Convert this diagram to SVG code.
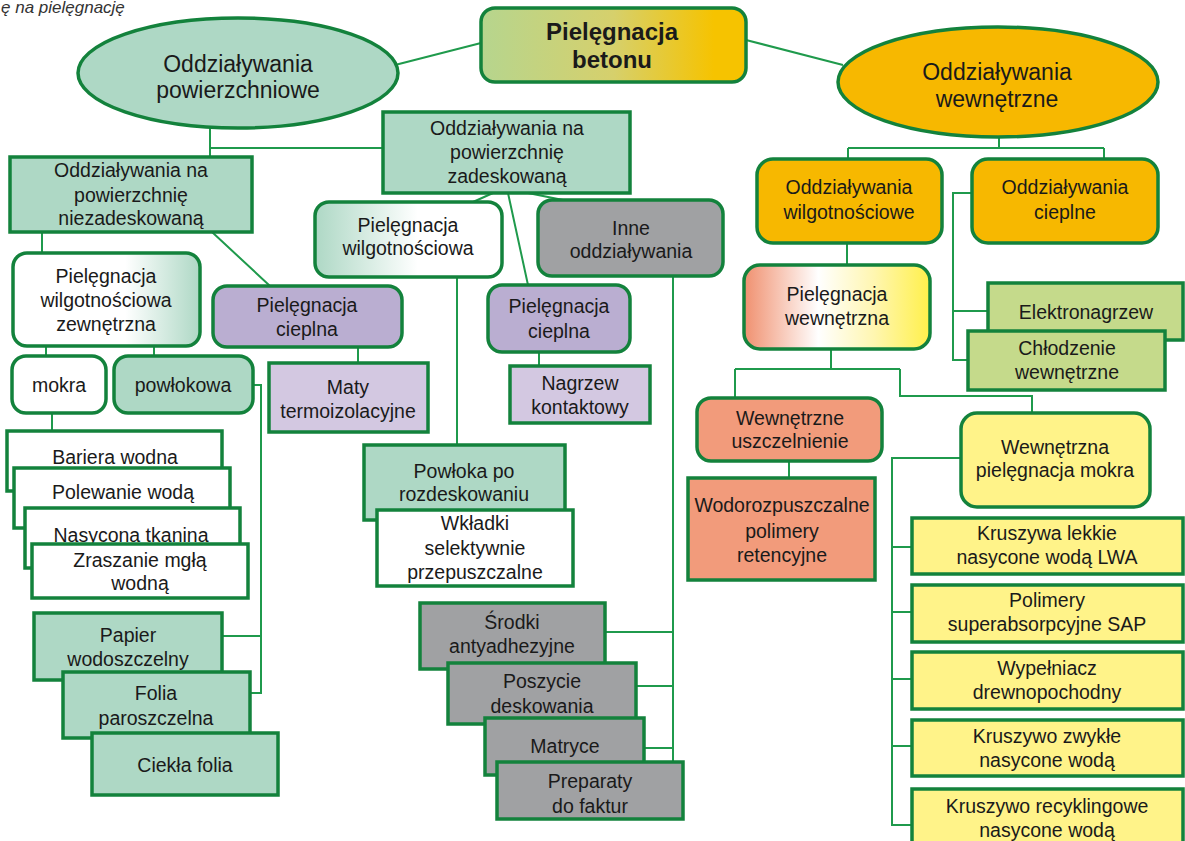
<svg xmlns="http://www.w3.org/2000/svg" width="1185" height="841" viewBox="0 0 1185 841">
<defs>
<style>
.b{stroke:#13823c;stroke-width:3.5}
.ln{stroke:#1f9a4c;stroke-width:2;fill:none}
text{font-family:"Liberation Sans",Arial,sans-serif;font-size:19.5px;fill:#1a1a1a;text-anchor:middle}
.big{font-size:23px}
.ttl{font-size:24px;font-weight:bold}
.cap{font-size:17px;font-style:italic;text-anchor:start;fill:#333}
.teal{fill:#aed8c5}.white{fill:#fff}.purple{fill:#baaed1}.lpurple{fill:#d3c8e1}
.gray{fill:#a0a1a3}.amber{fill:#f7b800}.salmon{fill:#f29b7b}.lgreen{fill:#c5da8b}.yellow{fill:#fff389}
</style>
<linearGradient id="gTitle" x1="0" y1="0" x2="1" y2="0">
<stop offset="0" stop-color="#b6d58e"/><stop offset="0.5" stop-color="#d6d06c"/><stop offset="0.88" stop-color="#f6c300"/><stop offset="1" stop-color="#f6c300"/>
</linearGradient>
<linearGradient id="gPWZ" x1="0" y1="0" x2="1" y2="0">
<stop offset="0" stop-color="#fff"/><stop offset="0.6" stop-color="#fff"/><stop offset="1" stop-color="#aed8c5"/>
</linearGradient>
<linearGradient id="gPWC" x1="0" y1="0" x2="1" y2="0">
<stop offset="0" stop-color="#aed8c5"/><stop offset="0.55" stop-color="#fff"/><stop offset="1" stop-color="#fff"/>
</linearGradient>
<linearGradient id="gPWew" x1="0" y1="0" x2="1" y2="0">
<stop offset="0" stop-color="#f0906f"/><stop offset="0.4" stop-color="#fff"/><stop offset="0.7" stop-color="#fff6b0"/><stop offset="1" stop-color="#fff04a"/>
</linearGradient>
</defs>
<rect width="1185" height="841" fill="#fff"/>
<text class="cap" x="1" y="13">ę na pielęgnację</text>

<g id="connectors">
<path class="ln" d="M481,43 L395,65 M746,40 L843,65"/>
<path class="ln" d="M210,128 V157 M210,148 H383"/>
<path class="ln" d="M42,232 V253 M46,346 V356 M154,346 V356 M52,413 V431"/>
<path class="ln" d="M253,385 H261 V693 H250 M222,636 H261"/>
<path class="ln" d="M212,232 L270,286 M358,347 V363"/>
<path class="ln" d="M493,193 L473,202 M457,277 V445 M528,193 L563,200 M508,193 L528,285 M539,352 V366"/>
<path class="ln" d="M673,276 V762 M605,632 H673 M636,686 H673 M644,748 H673"/>
<path class="ln" d="M999,137 V148 M848,148 H1104 M848,148 V159 M1104,148 V159"/>
<path class="ln" d="M972,193 H953 V360 H968 M953,311 H988"/>
<path class="ln" d="M847,243 V265 M831,349 V369 M735,369 H900 M735,369 V398 M900,369 V396 H1032 V413 M789,461 V478"/>
<path class="ln" d="M961,458 H892 V825 H912 M892,547 H912 M892,612 H912 M892,679 H912 M892,746 H912"/>
</g>

<g id="n-pielegnacja-betonu"><rect class="b" x="481" y="8" width="265" height="74" rx="14" fill="url(#gTitle)"/><text class="ttl" x="612" y="40">Pielęgnacja</text><text class="ttl" x="612" y="68">betonu</text></g>
<g id="n-powierzchniowe"><ellipse class="b teal" cx="238" cy="73" rx="160" ry="55"/><text class="big" x="238" y="72">Oddziaływania</text><text class="big" x="238" y="98">powierzchniowe</text></g>
<g id="n-wewnetrzne"><ellipse class="b amber" cx="998" cy="82" rx="160" ry="55"/><text class="big" x="997" y="80">Oddziaływania</text><text class="big" x="997" y="107">wewnętrzne</text></g>

<g id="n-niezadeskowana"><rect class="b teal" x="10" y="157" width="242" height="75"/><text x="131" y="177">Oddziaływania na</text><text x="131" y="202">powierzchnię</text><text x="131" y="225">niezadeskowaną</text></g>
<g id="n-zadeskowana"><rect class="b teal" x="383" y="112" width="247" height="81"/><text x="507" y="135">Oddziaływania na</text><text x="507" y="159">powierzchnię</text><text x="507" y="183">zadeskowaną</text></g>
<g id="n-pwz"><rect class="b" x="13" y="253" width="187" height="93" rx="14" fill="url(#gPWZ)"/><text x="106" y="283">Pielęgnacja</text><text x="106" y="307">wilgotnościowa</text><text x="106" y="331">zewnętrzna</text></g>
<g id="n-mokra"><rect class="b white" x="12" y="356" width="94" height="57" rx="14"/><text x="59" y="392">mokra</text></g>
<g id="n-powlokowa"><rect class="b teal" x="114" y="356" width="139" height="57" rx="14"/><text x="183" y="392">powłokowa</text></g>
<g id="n-bariera"><rect class="b white" x="7" y="431" width="215" height="60"/><text x="115" y="464">Bariera wodna</text></g>
<g id="n-polewanie"><rect class="b white" x="14" y="468" width="216" height="60"/><text x="123" y="499">Polewanie wodą</text></g>
<g id="n-nasycona"><rect class="b white" x="25" y="508" width="215" height="60"/><text x="131" y="542">Nasycona tkanina</text></g>
<g id="n-zraszanie"><rect class="b white" x="32" y="544" width="216" height="54"/><text x="140" y="567">Zraszanie mgłą</text><text x="140" y="590">wodną</text></g>
<g id="n-papier"><rect class="b teal" x="34" y="613" width="188" height="67"/><text x="128" y="642">Papier</text><text x="128" y="666">wodoszczelny</text></g>
<g id="n-folia"><rect class="b teal" x="63" y="672" width="187" height="66"/><text x="156" y="700">Folia</text><text x="156" y="725">paroszczelna</text></g>
<g id="n-ciekla"><rect class="b teal" x="92" y="733" width="186" height="62"/><text x="185" y="772">Ciekła folia</text></g>
<g id="n-cieplna-l"><rect class="b purple" x="213" y="286" width="189" height="61" rx="14"/><text x="307" y="312">Pielęgnacja</text><text x="307" y="336">cieplna</text></g>
<g id="n-maty"><rect class="b lpurple" x="269" y="363" width="159" height="69"/><text x="348" y="394">Maty</text><text x="348" y="418">termoizolacyjne</text></g>
<g id="n-pwc"><rect class="b" x="315" y="202" width="187" height="75" rx="14" fill="url(#gPWC)"/><text x="408" y="232">Pielęgnacja</text><text x="408" y="255">wilgotnościowa</text></g>
<g id="n-inne"><rect class="b gray" x="538" y="200" width="185" height="76" rx="14"/><text x="631" y="235">Inne</text><text x="631" y="258">oddziaływania</text></g>
<g id="n-cieplna-c"><rect class="b purple" x="488" y="285" width="142" height="67" rx="14"/><text x="559" y="313">Pielęgnacja</text><text x="559" y="338">cieplna</text></g>
<g id="n-nagrzew"><rect class="b lpurple" x="510" y="366" width="140" height="57"/><text x="580" y="390">Nagrzew</text><text x="580" y="414">kontaktowy</text></g>
<g id="n-powloka-po"><rect class="b teal" x="364" y="445" width="201" height="75"/><text x="464" y="478">Powłoka po</text><text x="464" y="501">rozdeskowaniu</text></g>
<g id="n-wkladki"><rect class="b white" x="377" y="510" width="196" height="76"/><text x="475" y="530">Wkładki</text><text x="475" y="555">selektywnie</text><text x="475" y="579">przepuszczalne</text></g>
<g id="n-srodki"><rect class="b gray" x="420" y="603" width="185" height="66"/><text x="512" y="629">Środki</text><text x="512" y="653">antyadhezyjne</text></g>
<g id="n-poszycie"><rect class="b gray" x="448" y="663" width="188" height="61"/><text x="542" y="688">Poszycie</text><text x="542" y="713">deskowania</text></g>
<g id="n-matryce"><rect class="b gray" x="485" y="718" width="159" height="57"/><text x="565" y="753">Matryce</text></g>
<g id="n-preparaty"><rect class="b gray" x="497" y="762" width="186" height="57"/><text x="590" y="788">Preparaty</text><text x="590" y="813">do faktur</text></g>

<g id="n-ow"><rect class="b amber" x="757" y="159" width="185" height="84" rx="16"/><text x="849" y="194">Oddziaływania</text><text x="849" y="219">wilgotnościowe</text></g>
<g id="n-oc"><rect class="b amber" x="972" y="159" width="186" height="84" rx="16"/><text x="1065" y="194">Oddziaływania</text><text x="1065" y="219">cieplne</text></g>
<g id="n-elektro"><rect class="b lgreen" x="988" y="283" width="195" height="57"/><text x="1086" y="319">Elektronagrzew</text></g>
<g id="n-chlodzenie"><rect class="b lgreen" x="968" y="331" width="197" height="59"/><text x="1067" y="355">Chłodzenie</text><text x="1067" y="379">wewnętrzne</text></g>
<g id="n-pwew"><rect class="b" x="744" y="265" width="186" height="84" rx="16" fill="url(#gPWew)"/><text x="837" y="301">Pielęgnacja</text><text x="837" y="325">wewnętrzna</text></g>
<g id="n-wu"><rect class="b salmon" x="697" y="398" width="185" height="63" rx="14"/><text x="790" y="425">Wewnętrzne</text><text x="790" y="448">uszczelnienie</text></g>
<g id="n-wodoroz"><rect class="b salmon" x="688" y="478" width="187" height="102"/><text x="782" y="512">Wodorozpuszczalne</text><text x="782" y="538">polimery</text><text x="782" y="562">retencyjne</text></g>
<g id="n-wpm"><rect class="b yellow" x="961" y="413" width="189" height="94" rx="16"/><text x="1055" y="454">Wewnętrzna</text><text x="1055" y="477">pielęgnacja mokra</text></g>
<g id="n-lwa"><rect class="b yellow" x="912" y="518" width="271" height="56"/><text x="1047" y="540">Kruszywa lekkie</text><text x="1047" y="564">nasycone wodą LWA</text></g>
<g id="n-sap"><rect class="b yellow" x="912" y="585" width="271" height="57"/><text x="1047" y="607">Polimery</text><text x="1047" y="631">superabsorpcyjne SAP</text></g>
<g id="n-wypelniacz"><rect class="b yellow" x="912" y="652" width="271" height="57"/><text x="1047" y="675">Wypełniacz</text><text x="1047" y="699">drewnopochodny</text></g>
<g id="n-zwykle"><rect class="b yellow" x="912" y="720" width="271" height="56"/><text x="1047" y="743">Kruszywo zwykłe</text><text x="1047" y="767">nasycone wodą</text></g>
<g id="n-recykling"><rect class="b yellow" x="912" y="789" width="271" height="62"/><text x="1047" y="813">Kruszywo recyklingowe</text><text x="1047" y="837">nasycone wodą</text></g>
</svg>
